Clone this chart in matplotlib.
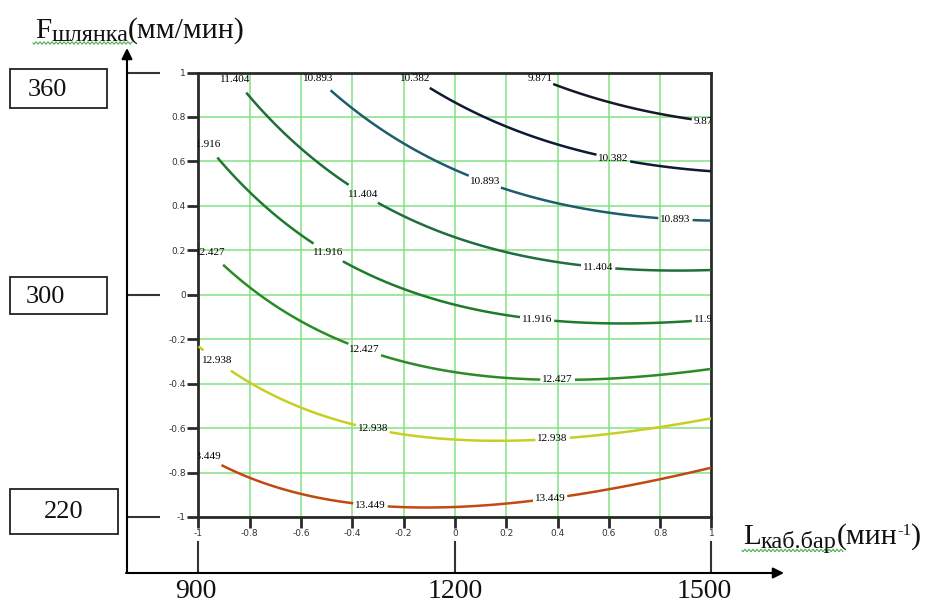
import numpy as np
import matplotlib.pyplot as plt
import matplotlib.transforms as mtrans
from matplotlib.patches import Rectangle
from matplotlib.ticker import FuncFormatter

plt.rcParams['font.family'] = ['Liberation Serif', 'DejaVu Serif']

# regression model in coded factors: x - L (rpm), y - F (mm/min)
b0, b1, b2 = 11.84, -0.515, -1.685
b12, b11, b22 = -0.615, 0.335, 0.0

levels = [9.871, 10.382, 10.893, 11.404, 11.916, 12.427, 12.938, 13.449]
level_colors = ['#16172a', '#0c1a36', '#1d5d6d', '#1f6e3b', '#1f7b2c', '#2b8b26', '#c8cf22', '#c04a12']
coded_ticks = [-1, -0.8, -0.6, -0.4, -0.2, 0, 0.2, 0.4, 0.6, 0.8, 1]

f_coded = [1, 0, -1]
f_natural = ['360', '300', '220']
l_coded = [-1, 0, 1]
l_natural = ['900', '1200', '1500']

# where the contour labels sit (layout only)
label_pos = [(0.3, 0.97), (0.98, 0.79),
             (-0.17, 0.965), (0.62, 0.63),
             (-0.54, 0.965), (0.12, 0.52), (0.86, 0.35),
             (-0.86, 0.965), (-0.36, 0.45), (0.56, 0.15),
             (-0.965, 0.68), (-0.5, 0.18), (0.32, -0.11), (0.99, -0.11),
             (-0.96, 0.18), (-0.35, -0.24), (0.4, -0.38),
             (-0.93, -0.3), (-0.32, -0.6), (0.38, -0.64),
             (-0.975, -0.74), (-0.33, -0.95), (0.37, -0.91)]

fig = plt.figure(figsize=(9.28, 6.07), dpi=100)
ov = fig.add_axes([0, 0, 1, 1])
ov.set_xlim(0, 928)
ov.set_ylim(607, 0)
ov.axis('off')

ax = fig.add_axes([198.5 / 928, 90 / 607, 513 / 928, 444.5 / 607])

# contours stop just under the top frame, where their labels sit
gx = np.linspace(-1, 1, 301)
gy = np.linspace(-1, 0.972, 301)
X, Y = np.meshgrid(gx, gy)
Z = b0 + b1 * X + b2 * Y + b12 * X * Y + b11 * X ** 2 + b22 * Y ** 2

cs = ax.contour(X, Y, Z, levels=levels, colors=level_colors, linewidths=1.8, zorder=3)
ax.clabel(cs, fmt='%.3f', fontsize=8, inline=True, inline_spacing=2,
          manual=label_pos, colors='black')
for t in cs.labelTexts:
    t.set_rotation(0)
    t.set_clip_on(True)

ax.set_xlim(-1, 1)
ax.set_ylim(-1, 1)
ax.set_xticks(coded_ticks)
ax.set_yticks(coded_ticks)
fmt = FuncFormatter(lambda v, _: f'{v:g}')
ax.xaxis.set_major_formatter(fmt)
ax.yaxis.set_major_formatter(fmt)
ax.grid(True, color='#84e084', lw=1.1)
ax.set_axisbelow(True)
for s in ax.spines.values():
    s.set_linewidth(2)
    s.set_color('#2a2a2a')
ax.tick_params(direction='out', length=8, width=2, color='#2a2a2a',
               labelsize=6.5, labelcolor='#333333', pad=1,
               labelfontfamily='DejaVu Sans')

# outer natural-scale axes
ln = dict(color='#333333', lw=1.5, solid_capstyle='butt')
arrow = dict(arrowstyle='-|>', color='black', lw=1.5, mutation_scale=16,
             shrinkA=0, shrinkB=0)
ov.annotate('', xy=(127, 48), xytext=(127, 573), arrowprops=arrow)
ov.annotate('', xy=(784, 573), xytext=(126, 573), arrowprops=arrow)

ty = mtrans.blended_transform_factory(ov.transData, ax.transData)
tx = mtrans.blended_transform_factory(ax.transData, ov.transData)

# boxes with the natural F values: (left, width, height, centre shift, text x)
boxes = [(10, 97, 39, 16, 47), (10, 97, 37, 1, 45), (10, 108, 45, -6, 64)]
for v, lab, (bx, bw, bh, dy, tx0) in zip(f_coded, f_natural, boxes):
    ov.plot([127, 160], [v, v], transform=ty, **ln)
    yc = 607 - ax.transData.transform((0, v))[1] + dy
    ov.add_patch(Rectangle((bx, yc - bh / 2), bw, bh, fill=False,
                           edgecolor='#222222', lw=1.3))
    ov.text(tx0, yc + 1, lab, ha='center', va='center', fontsize=19, color='#111111')

lab_shift = [-3, 0, -7]
for v, lab, sh in zip(l_coded, l_natural, lab_shift):
    ov.plot([v, v], [541, 573], transform=tx, **ln)
    xc = ax.transData.transform((v, 0))[0] + sh
    ov.text(xc, 592, lab, ha='center', va='center', fontsize=20, color='#111111')

# axis titles, pieces set one after another
tc = '#111111'
renderer = fig.canvas.get_renderer()


def chain(x0, pieces):
    xc = x0
    for s, yb, size in pieces:
        t = ov.text(xc, yb, s, ha='left', va='baseline', fontsize=size, color=tc)
        xc = t.get_window_extent(renderer).x1


chain(35, [('F', 38, 21), ('шлянка', 41, 17.5), ('(мм/мин)', 38, 21.5)])
chain(743, [('L', 544, 21), ('каб.бар', 548, 17.5), ('(мин', 544, 21.5),
            ('-1', 535, 12), (')', 544, 21.5)])

# spell-check squiggles under the subscripts
for x0, x1, yw in [(33, 132, 43), (742, 843, 550.5)]:
    xs = np.linspace(x0, x1, 300)
    ov.plot(xs, yw + 1.1 * np.sin(2 * np.pi * (xs - x0) / 4), color='#4caf50', lw=0.8)

fig.savefig('out.png', dpi=100)
